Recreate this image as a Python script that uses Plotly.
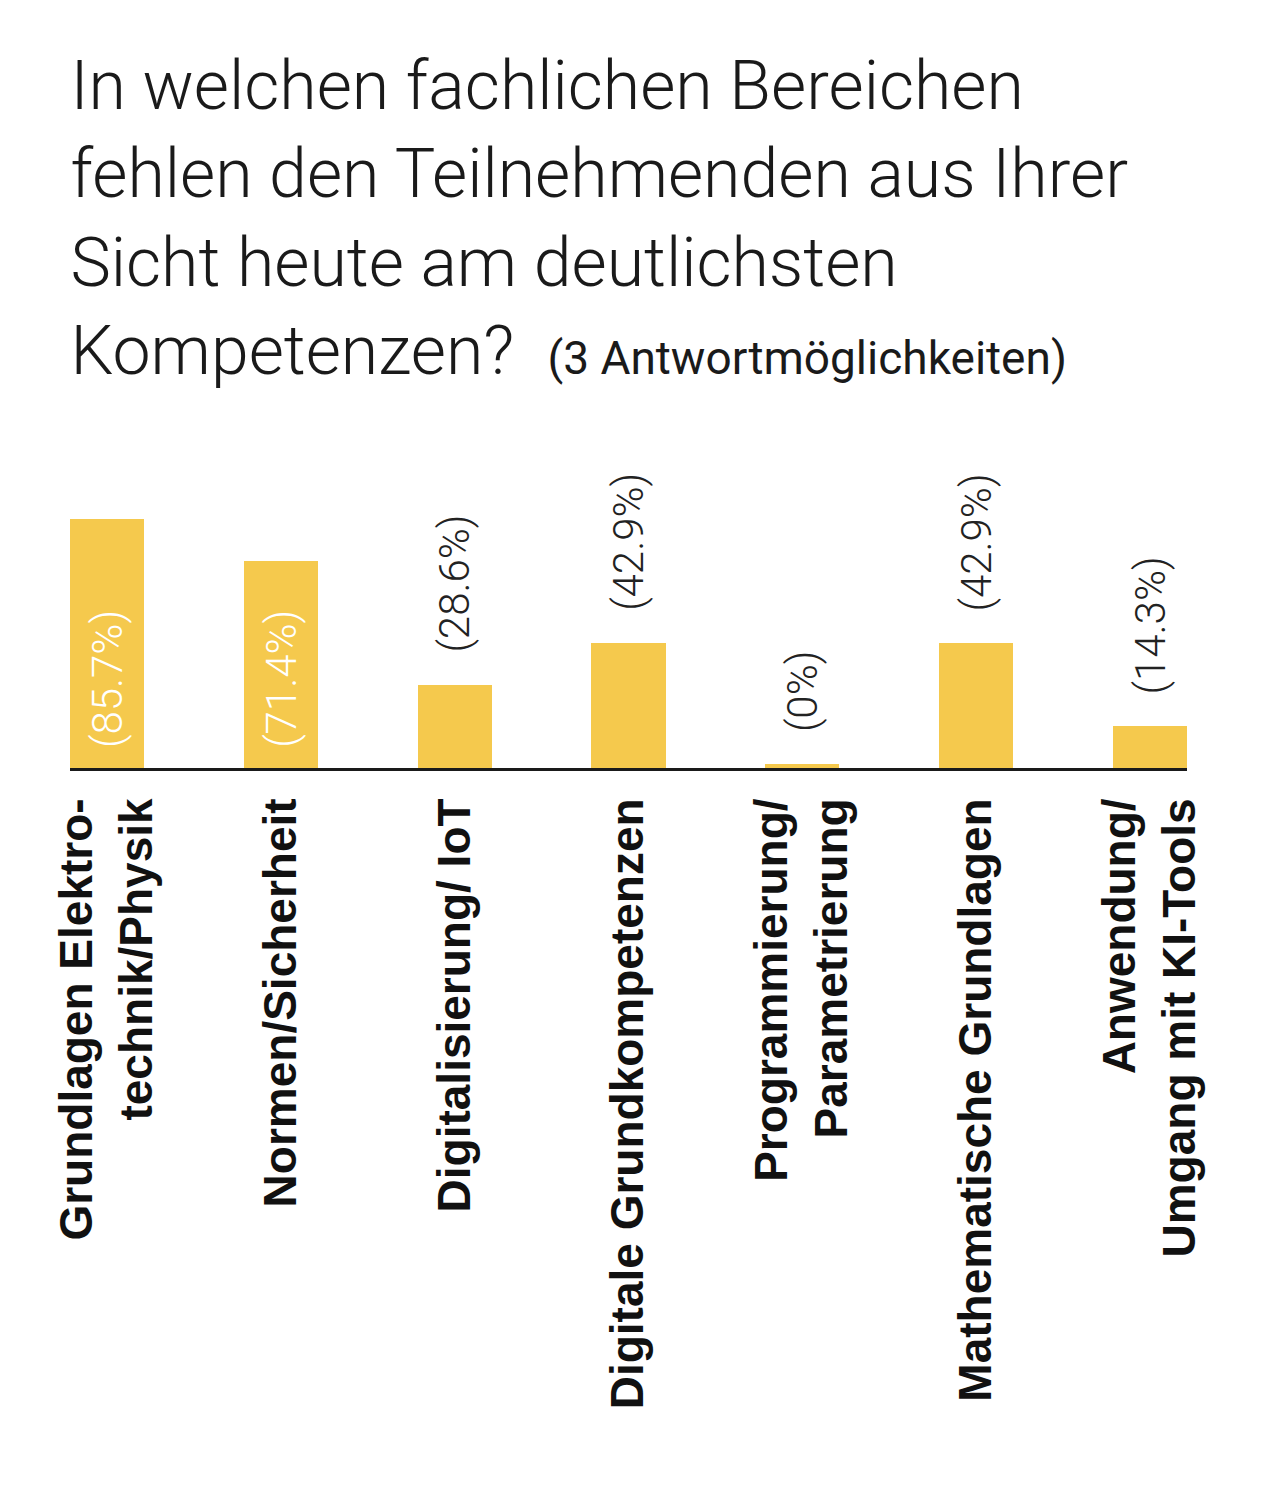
import plotly.graph_objects as go

# Umfrage: fehlende Kompetenzen (Mehrfachauswahl, 3 Antworten)
categories = [
    "elektro",
    "normen",
    "digital",
    "grundkomp",
    "programm",
    "mathe",
    "ki",
]
tick_labels = [
    "Grundlagen Elektro-<br>technik/Physik",
    "Normen/Sicherheit",
    "Digitalisierung/ IoT",
    "Digitale Grundkompetenzen",
    "Programmierung/<br>Parametrierung",
    "Mathematische Grundlagen",
    "Anwendung/<br>Umgang mit KI-Tools",
]
shares = [85.7, 71.4, 28.6, 42.9, 0, 42.9, 14.3]
share_labels = ["(85.7%)", "(71.4%)", "(28.6%)", "(42.9%)", "(0%)", "(42.9%)", "(14.3%)"]

YELLOW = "#F5C94D"
# a 0 % bar still gets a thin stub like in the print version
bar_heights = [max(v, 1.3) for v in shares]

fig = go.Figure()
fig.add_trace(go.Bar(
    x=categories,
    y=bar_heights,
    marker_color=YELLOW,
    marker_line_width=0,
    width=0.426,
    hoverinfo="skip",
))

# value labels: inside (white) for the big bars, above for the rest
for cat, h, v, lab in zip(categories, bar_heights, shares, share_labels):
    inside = v > 50
    fig.add_annotation(
        x=cat,
        y=0 if inside else h,
        text=lab,
        textangle=-90,
        showarrow=False,
        xanchor="center",
        yanchor="bottom",
        yshift=18 if inside else 30,
        font=dict(family="Roboto", size=42, weight=300,
                  color="white" if inside else "#222222"),
    )

title_text = (
    "In welchen fachlichen Bereichen<br>"
    "fehlen den Teilnehmenden aus Ihrer<br>"
    "Sicht heute am deutlichsten<br>"
    "Kompetenzen?  "
    "<span style='font-size:46px;font-weight:400'>(3 Antwortmöglichkeiten)</span>"
)

fig.update_layout(
    width=1262,
    height=1504,
    margin=dict(l=62, r=83, t=432, b=744),
    paper_bgcolor="white",
    plot_bgcolor="white",
    showlegend=False,
    bargap=0,
    title=dict(
        text=title_text,
        x=0.0495,
        xref="container",
        xanchor="left",
        y=0.933,
        yref="container",
        yanchor="top",
        font=dict(family="Roboto", size=68, weight=300, color="#1a1a1a"),
    ),
    xaxis=dict(
        tickvals=categories,
        ticktext=tick_labels,
        tickangle=-90,
        tickfont=dict(family="Liberation Sans", size=46, weight=700, color="#111111"),
        ticks="",
        ticklabelstandoff=9,
        showline=True,
        linecolor="#1a1a1a",
        linewidth=3,
        showgrid=False,
        range=[-0.213, 6.213],
        fixedrange=True,
    ),
    yaxis=dict(
        range=[0, 112.9],
        visible=False,
        showgrid=False,
        zeroline=False,
        fixedrange=True,
    ),
)

fig.write_html("out.html")
